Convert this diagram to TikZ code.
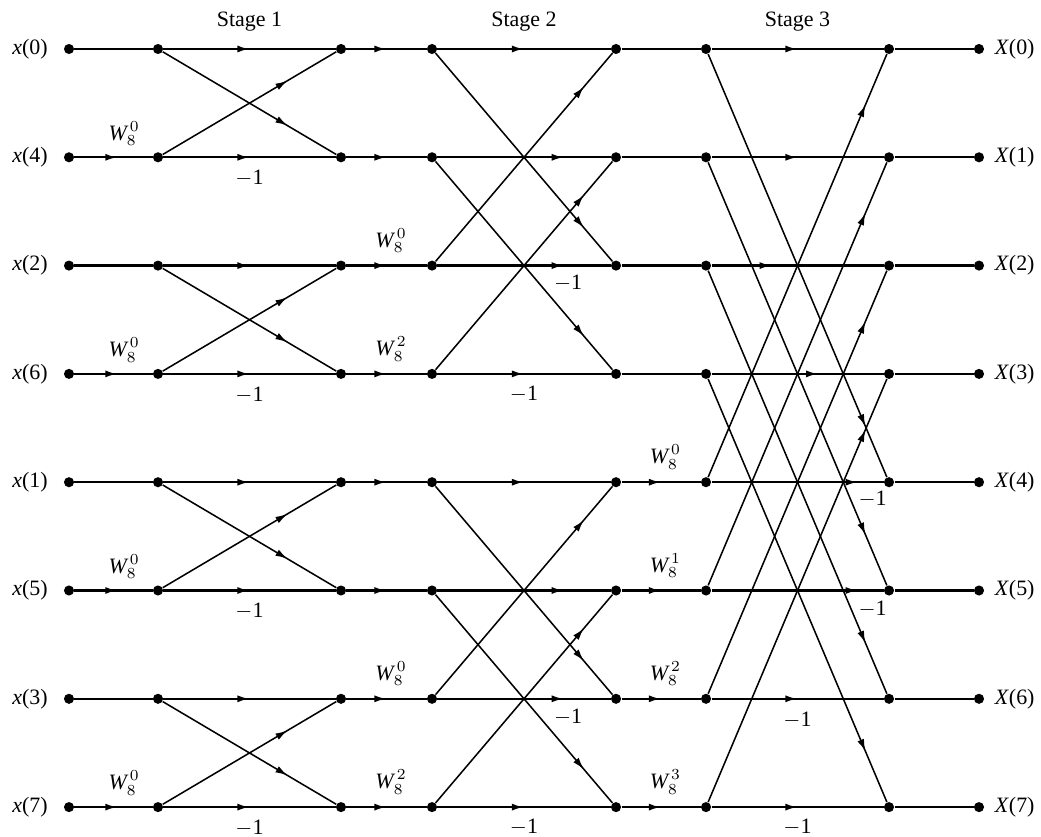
\documentclass[tikz,border=0pt]{standalone}
\usepackage{fontspec}
\setmainfont{Liberation Serif}
\usetikzlibrary{arrows.meta,decorations.markings,calc,positioning}

\tikzset{
  >={Latex[length=5.5pt,width=3.2pt]},
  dot/.style={circle,fill=black,inner sep=0pt,minimum size=4.6pt},
  wire/.style={line width=1pt},
  leg/.style={line width=0.7pt},
  mid/.style={postaction={decorate},
    decoration={markings,mark=at position #1 with {\arrow{>}}}},
  lbl/.style={inner sep=1pt},
}
\newcommand{\tw}[1]{$\textit{W}^{\,#1}_{8}$}

\begin{document}
\begin{tikzpicture}[x=0.016cm,y=-0.016cm]
\useasboundingbox (0,0) rectangle (1041,836);

% grid of dots
\foreach \c/\xc in {0/69,1/158,2/341,3/432,4/616,5/706,6/889,7/979}{
  \foreach \r in {0,...,7}{
    \node[dot] (n\c\r) at (\xc,49+108.3*\r) {};
  }
}

\foreach \r/\k in {0/0,1/4,2/2,3/6,4/1,5/5,6/3,7/7}{
  \node[lbl,left=6pt of n0\r] (x\r) {\textit{x}(\k)};
}
\foreach \r in {0,...,7}{
  \node[lbl,right=3.5pt of n7\r] (X\r) {\textit{X}(\r)};
}

\node (st1) at ($(n10)!0.5!(n20)+(0,-27)$) {Stage 1};
\node (st2) at ($(n30)!0.5!(n40)+(0,-27)$) {Stage 2};
\node (st3) at ($(n50)!0.5!(n60)+(0,-27)$) {Stage 3};

% horizontal branches
\foreach \r in {0,2,4,6}{
  \draw[wire] (n0\r) -- (n1\r);
  \pgfmathtruncatemacro{\b}{\r+1}
  \draw[wire,mid=0.55] (n0\b) -- (n1\b);
}
\foreach \r in {0,...,7}{
  \draw[wire,mid=0.5] (n1\r) -- (n2\r);
  \draw[wire,mid=0.5] (n2\r) -- (n3\r);
  \draw[wire] (n6\r) -- (n7\r);
}
\foreach \r/\p in {0/0.5,1/0.73,2/0.73,3/0.5,4/0.5,5/0.73,6/0.73,7/0.5}{
  \draw[wire,mid=\p] (n3\r) -- (n4\r);
}
\foreach \r in {0,...,3}{
  \draw[wire] (n4\r) -- (n5\r);
  \pgfmathtruncatemacro{\b}{\r+4}
  \draw[wire,mid=0.5] (n4\b) -- (n5\b);
}
\foreach \r/\p in {0/0.5,1/0.5,2/0.35,3/0.62,4/0.85,5/0.85,6/0.5,7/0.5}{
  \draw[wire,mid=\p] (n5\r) -- (n6\r);
}

% butterfly legs
\foreach \t in {0,2,4,6}{
  \pgfmathtruncatemacro{\b}{\t+1}
  \draw[leg,mid=0.72] (n1\t) -- (n2\b);
  \draw[leg,mid=0.72] (n1\b) -- (n2\t);
}
\foreach \t in {0,1,4,5}{
  \pgfmathtruncatemacro{\b}{\t+2}
  \draw[leg,mid=0.84] (n3\t) -- (n4\b);
  \draw[leg,mid=0.84] (n3\b) -- (n4\t);
}
\foreach \t in {0,...,3}{
  \pgfmathtruncatemacro{\b}{\t+4}
  \draw[leg,mid=0.88] (n5\t) -- (n6\b);
  \draw[leg,mid=0.88] (n5\b) -- (n6\t);
}

% twiddle factors
\foreach \r in {1,3,5,7}{
  \node[lbl] (wa\r) at ($(n0\r)!0.62!(n1\r)+(0,-24)$) {\tw{0}};
  \node[lbl] (ma\r) at ($(n1\r)!0.5!(n2\r)+(0,21)$) {$-$1};
}
\foreach \r/\e in {2/0,3/2,6/0,7/2}{
  \node[lbl] (wb\r) at ($(n2\r)!0.55!(n3\r)+(0,-25)$) {\tw{\e}};
}
\foreach \r/\p/\d in {2/0.74/18,3/0.5/20,6/0.74/18,7/0.5/20}{
  \node[lbl] (mb\r) at ($(n3\r)!\p!(n4\r)+(0,\d)$) {$-$1};
}
\foreach \r/\e in {4/0,5/1,6/2,7/3}{
  \node[lbl] (wc\r) at ($(n4\r)!0.55!(n5\r)+(0,-25)$) {\tw{\e}};
}
\foreach \r/\p/\d in {4/0.91/17,5/0.91/19,6/0.5/21,7/0.5/20}{
  \node[lbl] (mc\r) at ($(n5\r)!\p!(n6\r)+(0,\d)$) {$-$1};
}

\end{tikzpicture}
\end{document}
